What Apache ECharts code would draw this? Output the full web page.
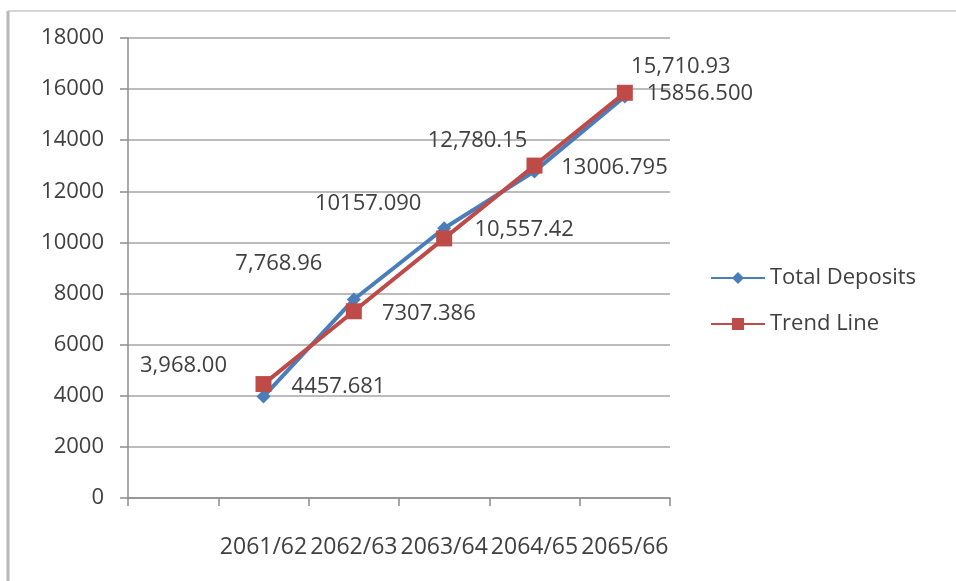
<!DOCTYPE html>
<html>
<head>
<meta charset="utf-8">
<script src="https://cdn.jsdelivr.net/npm/echarts@6/dist/echarts.min.js"></script>
<style>
html,body{margin:0;padding:0;background:#fff;}
#c{width:956px;height:581px;}
</style>
</head>
<body>
<div id="c"></div>
<script>
var categories = ['', '2061/62', '2062/63', '2063/64', '2064/65', '2065/66'];
var totalDeposits = [null, 3968.00, 7768.96, 10557.42, 12780.15, 15710.93];
var trendLine = [null, 4457.681, 7307.386, 10157.090, 13006.795, 15856.500];
var yTicks = [0, 2000, 4000, 6000, 8000, 10000, 12000, 14000, 16000, 18000];

// label offsets (styling, px from point centre)
var depOffsets = [null, [-80, -31], [-75, -36], [80, 2], [-57, -31], [56, -30]];
var trendOffsets = [null, [75, 3], [75, 2], [-76, -35], [80, 2], [75, 1]];

var FONT = 'Open Sans';
var TXT = '#404040';

function fmtDep(v) {
  return v.toLocaleString('en-US', {minimumFractionDigits: 2, maximumFractionDigits: 2});
}
function fmtTrend(v) { return v.toFixed(3); }

function buildData(vals, offs, fmt) {
  return vals.map(function (v, i) {
    if (v === null) return null;
    return {
      value: v,
      label: {
        show: true, position: 'inside', offset: offs[i],
        formatter: fmt(v), color: TXT, fontFamily: FONT, fontSize: 22
      }
    };
  });
}

var chart = echarts.init(document.getElementById('c'));
chart.setOption({
  animation: false,
  backgroundColor: '#fff',
  grid: {left: 128, right: 286, top: 38, bottom: 83, containLabel: false},
  legend: {
    orient: 'vertical', left: 705, top: 262, itemGap: 24,
    itemWidth: 54, itemHeight: 15,
    textStyle: {color: TXT, fontFamily: FONT, fontSize: 22},
    data: ['Total Deposits', 'Trend Line']
  },
  xAxis: {
    type: 'category', data: categories, boundaryGap: true,
    axisLine: {lineStyle: {color: '#8c8c8c', width: 1.5}},
    axisTick: {show: true, length: 8, interval: 0, lineStyle: {color: '#8c8c8c', width: 1.5}},
    axisLabel: {interval: 0, color: TXT, fontFamily: FONT, fontSize: 23, margin: 38},
    splitLine: {show: false}
  },
  yAxis: {
    type: 'value', min: yTicks[0], max: yTicks[yTicks.length - 1], interval: 2000,
    axisLine: {show: true, lineStyle: {color: '#8c8c8c', width: 1.5}},
    axisTick: {show: true, length: 8, lineStyle: {color: '#8c8c8c', width: 1.5}},
    axisLabel: {color: TXT, fontFamily: FONT, fontSize: 22, margin: 24,
      formatter: function (v) { return String(v); }},
    splitLine: {lineStyle: {color: '#a6a6a6', width: 1.5}}
  },
  series: [
    {
      name: 'Total Deposits', type: 'line',
      data: buildData(totalDeposits, depOffsets, fmtDep),
      symbol: 'diamond', symbolSize: 14,
      itemStyle: {color: '#4a7ebb'},
      lineStyle: {color: '#4a7ebb', width: 4},
      z: 2
    },
    {
      name: 'Trend Line', type: 'line',
      data: buildData(trendLine, trendOffsets, fmtTrend),
      symbol: 'rect', symbolSize: 16,
      itemStyle: {color: '#be4b48'},
      lineStyle: {color: '#be4b48', width: 4},
      z: 3
    }
  ],
  graphic: [
    {type: 'line', shape: {x1: 8, y1: 11, x2: 8, y2: 581}, style: {stroke: '#b8b8b8', lineWidth: 3}, silent: true},
    {type: 'line', shape: {x1: 8, y1: 11, x2: 956, y2: 11}, style: {stroke: '#c8c8c8', lineWidth: 1.5}, silent: true}
  ]
});
</script>
</body>
</html>
